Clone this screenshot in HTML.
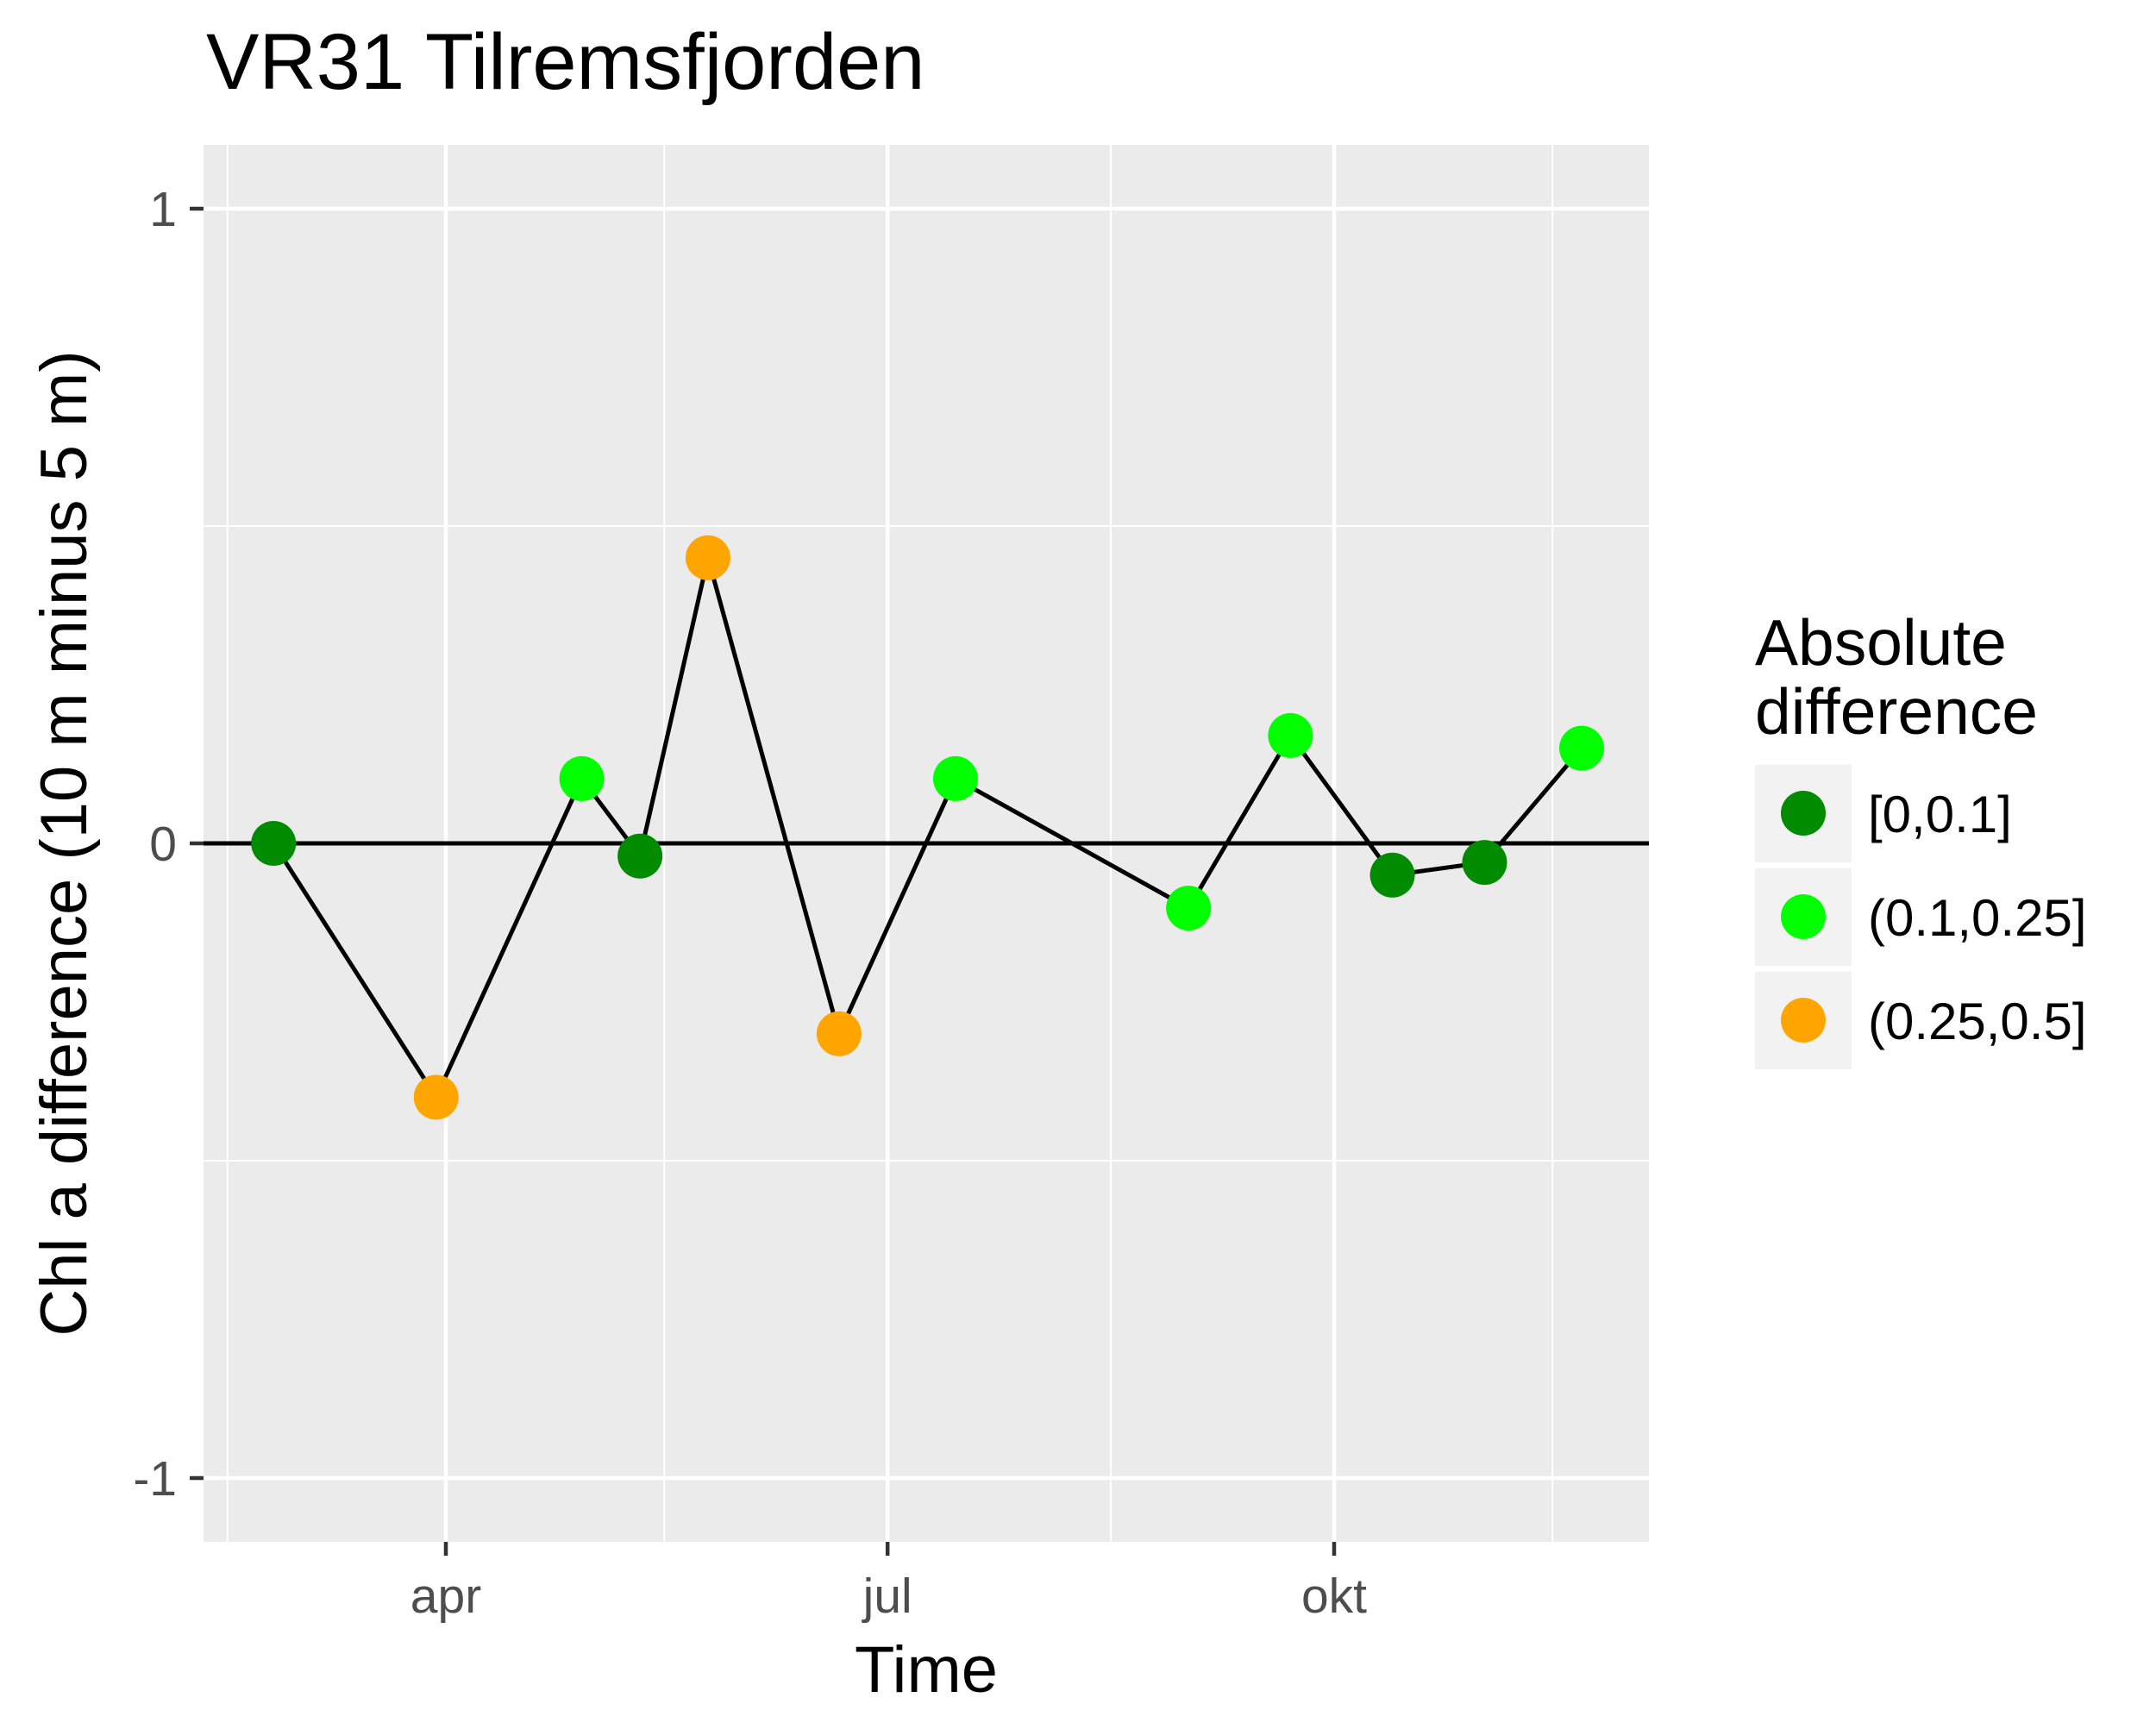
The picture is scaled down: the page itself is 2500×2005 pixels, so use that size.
<!DOCTYPE html>
<html><head><meta charset="utf-8"><style>
body{margin:0;background:#fff;}
svg text{font-family:"Liberation Sans",Arial,sans-serif;}
</style></head><body>
<svg id="chart" width="2500" height="2000" xmlns="http://www.w3.org/2000/svg">
<rect width="2500" height="2000" fill="#fff"/>
<text x="239" y="103" font-size="92" fill="#000">VR31 Tilremsfjorden</text>
<rect x="236" y="168" width="1676" height="1620" fill="#ebebeb"/>
<g id="grid"></g>
<g id="axes"></g>
<g id="series"></g>
<text x="1074" y="1962" font-size="76" text-anchor="middle" fill="#000">Time</text>
<text transform="translate(100,978) rotate(-90)" font-size="76" text-anchor="middle" fill="#000">Chl a difference (10 m minus 5 m)</text>
<g>
<text x="2035" y="771" font-size="75" fill="#000">Absolute</text>
<text x="2035" y="851" font-size="75" fill="#000">difference</text>
<g id="legend"></g>
</g>
</svg>
<script>
const dates=[55.5,89,119,131,145,172,196,244,265,286,305,325];
const values=[0,-0.40,0.102,-0.02,0.45,-0.30,0.102,-0.102,0.17,-0.05,-0.03,0.15];
const yTicks=[-1,0,1];
const yTickLabels=["-1","0","1"];
const xTicks=[91,182,274];
const xTickLabels=["apr","jul","okt"];
const xMinor=[46,136,228,319];
const yMinor=[-0.5,0.5];
const classLabels=["[0,0.1]","(0.1,0.25]","(0.25,0.5]"];
const classColors=["#008b00","#00ff00","#ffa500"];
const classBreaks=[0.1,0.25,0.5];

const NS="http://www.w3.org/2000/svg";
function X(d){return 517+(d-91)*(1547-517)/183;}
function Y(v){return 978-v*736;}
function mk(tag,attrs,parent){const e=document.createElementNS(NS,tag);for(const k in attrs)e.setAttribute(k,attrs[k]);parent.appendChild(e);return e;}
const grid=document.getElementById('grid'),axes=document.getElementById('axes'),series=document.getElementById('series'),legend=document.getElementById('legend');
yMinor.forEach(v=>{const l=mk('line',{x1:236,x2:1912,y1:Y(v),y2:Y(v),stroke:'#fff','stroke-width':2},grid);

});
xMinor.forEach(d=>{const l=mk('line',{x1:X(d),x2:X(d),y1:168,y2:1788,stroke:'#fff','stroke-width':2},grid);

});
yTicks.forEach((v,i)=>{const l=mk('line',{x1:236,x2:1912,y1:Y(v),y2:Y(v),stroke:'#fff','stroke-width':4.5},grid);


const t=mk('line',{x1:220,x2:236,y1:Y(v),y2:Y(v),stroke:'#333','stroke-width':4.5},axes);


const tx=mk('text',{x:205,y:Y(v)+20,'font-size':57,'text-anchor':'end',fill:'#4d4d4d'},axes);tx.textContent=yTickLabels[i];

});
xTicks.forEach((d,i)=>{const l=mk('line',{x1:X(d),x2:X(d),y1:168,y2:1788,stroke:'#fff','stroke-width':4.5},grid);


const t=mk('line',{x1:X(d),x2:X(d),y1:1788,y2:1804,stroke:'#333','stroke-width':4.5},axes);


const tx=mk('text',{x:X(d),y:1870,'font-size':57,'text-anchor':'middle',fill:'#4d4d4d'},axes);tx.textContent=xTickLabels[i];

});
const zl=mk('line',{x1:236,x2:1912,y1:Y(0),y2:Y(0),stroke:'#000','stroke-width':5},series);


const pl=mk('polyline',{points:dates.map((d,i)=>X(d)+','+Y(values[i])).join(' '),fill:'none',stroke:'#000','stroke-width':5},series);


function cls(v){const a=Math.abs(v);for(let i=0;i<classBreaks.length;i++)if(a<=classBreaks[i])return i;return classBreaks.length-1;}
dates.forEach((d,i)=>{const c=mk('circle',{cx:X(d),cy:Y(values[i]),r:26,fill:classColors[cls(values[i])]},series);

});
classLabels.forEach((lab,i)=>{const y0=887+i*120;
const r=mk('rect',{x:2035,y:y0,width:112,height:113,fill:'#f2f2f2'},legend);


const c=mk('circle',{cx:2091,cy:y0+56,r:26,fill:classColors[i]},legend);


const t=mk('text',{x:2166,y:y0+78,'font-size':60,fill:'#000'},legend);t.textContent=lab;

});
</script>
</body></html>
